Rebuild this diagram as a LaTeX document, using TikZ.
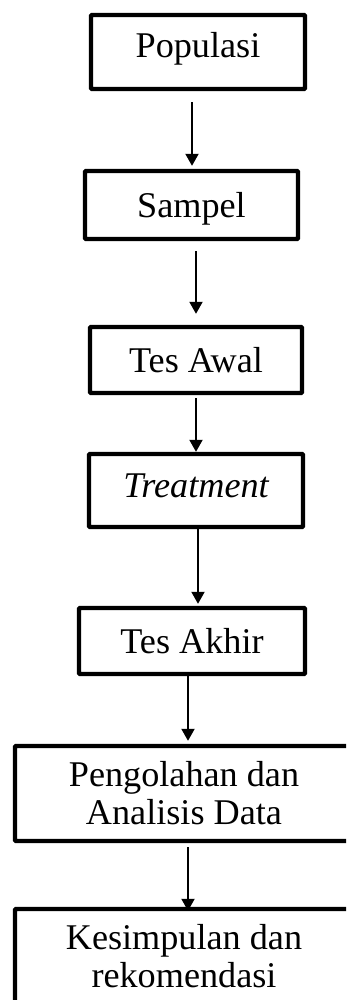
\documentclass[tikz,border=0pt]{standalone}
\usepackage{fontspec}
\setmainfont{Liberation Serif}
\usetikzlibrary{arrows.meta}
\tikzset{
  % kotak tahap (satu baris)
  box/.style={
    draw=black,
    line width=2.5pt,
    rounded corners=0.5pt,
    minimum width=4.28cm,
    minimum height=1.36cm,
    inner sep=2pt,
    font=\fontsize{20.6}{24}\selectfont,
    text height=0.48cm,
    text depth=0pt
  },
  % kotak lebar (dua baris)
  widebox/.style={
    draw=black,
    line width=2.5pt,
    rounded corners=0.5pt,
    minimum width=6.76cm,
    minimum height=1.90cm,
    inner sep=2pt,
    align=center,
    font=\fontsize{20.6}{21.6}\selectfont
  },
  % panah
  arr/.style={-{Triangle[length=0.24cm, width=0.26cm]}, line width=1.1pt},
}

\begin{document}
\begin{tikzpicture}
    \useasboundingbox (0,0) rectangle (6.92,-20);
    \clip (0,0) rectangle (6.92,-20);

    % Tahapan
    \node[box, minimum height=1.48cm, text depth=0.28cm] (pop) at (3.96,-1.04) {Populasi};
    \node[box, minimum width=4.26cm] (samp) at (3.83,-4.10) {Sampel};
    \node[box, minimum width=4.24cm, minimum height=1.32cm] (tawal) at (3.92,-7.20) {Tes Awal};
    \node[box, minimum height=1.46cm, text depth=0.2cm] (treat) at (3.92,-9.81) {\itshape Treatment};
    \node[box, minimum width=4.52cm, minimum height=1.32cm] (takhir) at (3.84,-12.82) {Tes Akhir};
    \node[widebox] (olah) at (3.68,-15.87) {Pengolahan dan\\Analisis Data};
    \node[widebox] (simpul) at (3.68,-19.13) {Kesimpulan dan\\rekomendasi};

    % Panah
    \draw[arr, shorten <=0.22cm, shorten >=0.06cm] ([xshift=-0.12cm]pop.south) -- ([xshift=-0.12cm]pop.south |- samp.north);
    \draw[arr, shorten <=0.2cm, shorten >=0.22cm] ([xshift=0.09cm]samp.south) -- ([xshift=0.09cm]samp.south |- tawal.north);
    \draw[arr, shorten <=0.06cm] (tawal.south) -- (treat.north);
    \draw[arr, shorten >=0.04cm] ([xshift=0.04cm]treat.south) -- ([xshift=0.04cm]treat.south |- takhir.north);
    \draw[arr, shorten >=0.06cm] ([xshift=-0.08cm]takhir.south) -- ([xshift=-0.08cm]takhir.south |- olah.north);
    \draw[arr, shorten <=0.08cm, shorten >=-0.08cm] ([xshift=0.08cm]olah.south) -- ([xshift=0.08cm]olah.south |- simpul.north);
\end{tikzpicture}
\end{document}
